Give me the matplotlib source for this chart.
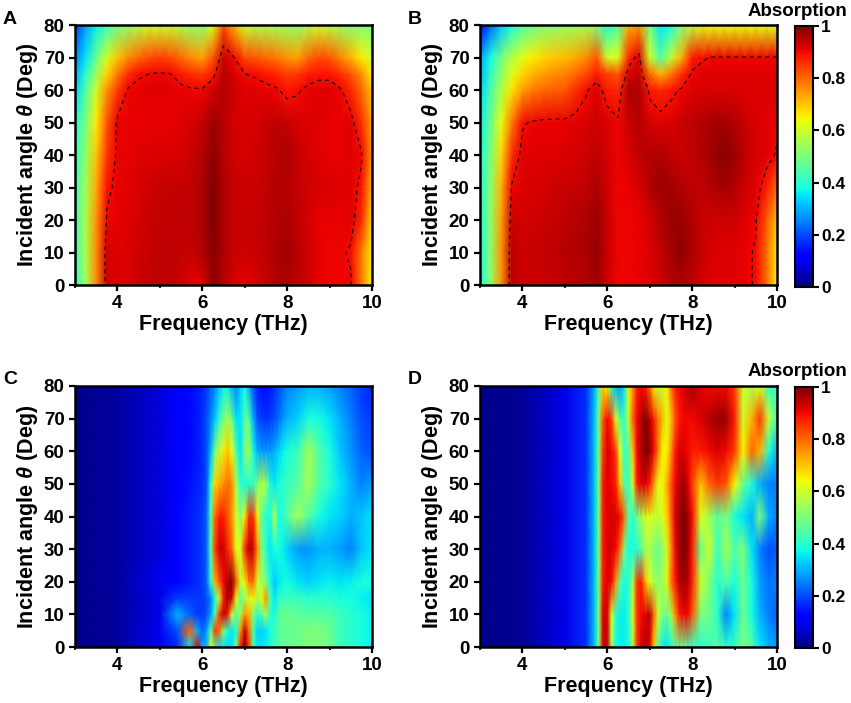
import numpy as np
import matplotlib
matplotlib.use("Agg")
import matplotlib.pyplot as plt
from matplotlib.ticker import MultipleLocator

plt.rcParams['font.family'] = ['Liberation Sans', 'DejaVu Sans']
plt.rcParams['font.weight'] = 'bold'
plt.rcParams['mathtext.fontset'] = 'custom'
plt.rcParams['mathtext.rm'] = 'Liberation Sans:bold'
plt.rcParams['mathtext.it'] = 'Liberation Sans:italic:bold'
plt.rcParams['mathtext.bf'] = 'Liberation Sans:bold'
plt.rcParams['lines.dashed_pattern'] = [3.5, 3.5]

# --- panels A and B: frequency (THz) x incident angle (deg) ---
freq_ab = [3.0, 3.25, 3.5, 3.75, 4.0, 4.25, 4.5, 4.75, 5.0, 5.25, 5.5, 5.75, 6.0, 6.25, 6.5,
           6.75, 7.0, 7.25, 7.5, 7.75, 8.0, 8.25, 8.5, 8.75, 9.0, 9.25, 9.5, 9.75, 10.0]
angle_ab = [0, 10, 20, 30, 40, 50, 60, 65, 70, 80]

absorb_a = [
    [0.40, 0.55, 0.76, 0.93, 0.915, 0.92, 0.93, 0.94, 0.945, 0.945, 0.93, 0.91, 0.915, 0.985, 0.95, 0.92, 0.91, 0.92, 0.935, 0.955, 0.96, 0.945, 0.93, 0.91, 0.905, 0.905, 0.905, 0.78, 0.65],
    [0.42, 0.56, 0.76, 0.93, 0.915, 0.92, 0.93, 0.94, 0.945, 0.945, 0.94, 0.94, 0.955, 0.99, 0.96, 0.935, 0.93, 0.935, 0.945, 0.96, 0.965, 0.95, 0.93, 0.91, 0.905, 0.905, 0.895, 0.78, 0.66],
    [0.42, 0.56, 0.75, 0.905, 0.91, 0.915, 0.925, 0.935, 0.94, 0.945, 0.945, 0.945, 0.96, 1.00, 0.96, 0.935, 0.935, 0.94, 0.945, 0.955, 0.96, 0.945, 0.925, 0.91, 0.91, 0.91, 0.915, 0.87, 0.68],
    [0.42, 0.55, 0.73, 0.89, 0.91, 0.915, 0.92, 0.93, 0.935, 0.94, 0.94, 0.945, 0.96, 1.00, 0.96, 0.935, 0.93, 0.935, 0.94, 0.95, 0.95, 0.94, 0.93, 0.925, 0.92, 0.915, 0.915, 0.89, 0.72],
    [0.40, 0.53, 0.70, 0.85, 0.91, 0.91, 0.915, 0.915, 0.92, 0.92, 0.925, 0.935, 0.95, 0.985, 0.95, 0.93, 0.925, 0.93, 0.94, 0.95, 0.96, 0.94, 0.925, 0.915, 0.91, 0.91, 0.915, 0.905, 0.75],
    [0.38, 0.50, 0.66, 0.82, 0.91, 0.91, 0.91, 0.91, 0.91, 0.91, 0.915, 0.925, 0.94, 0.97, 0.95, 0.925, 0.92, 0.925, 0.935, 0.945, 0.94, 0.925, 0.915, 0.915, 0.91, 0.91, 0.915, 0.86, 0.74],
    [0.33, 0.45, 0.60, 0.75, 0.85, 0.905, 0.91, 0.915, 0.915, 0.915, 0.91, 0.905, 0.905, 0.93, 0.95, 0.93, 0.915, 0.915, 0.91, 0.905, 0.885, 0.895, 0.91, 0.915, 0.915, 0.905, 0.87, 0.80, 0.70],
    [0.29, 0.40, 0.54, 0.68, 0.78, 0.86, 0.895, 0.90, 0.905, 0.90, 0.88, 0.86, 0.85, 0.885, 0.95, 0.92, 0.90, 0.895, 0.885, 0.87, 0.84, 0.85, 0.88, 0.89, 0.89, 0.86, 0.82, 0.76, 0.66],
    [0.25, 0.35, 0.48, 0.60, 0.70, 0.76, 0.80, 0.83, 0.84, 0.83, 0.80, 0.76, 0.74, 0.82, 0.94, 0.90, 0.83, 0.82, 0.80, 0.78, 0.75, 0.74, 0.80, 0.83, 0.82, 0.77, 0.72, 0.66, 0.60],
    [0.18, 0.28, 0.36, 0.42, 0.48, 0.53, 0.57, 0.60, 0.60, 0.59, 0.56, 0.53, 0.52, 0.62, 0.83, 0.72, 0.60, 0.57, 0.56, 0.55, 0.53, 0.53, 0.57, 0.60, 0.58, 0.54, 0.52, 0.51, 0.50],
]

absorb_b = [
    [0.38, 0.52, 0.75, 0.95, 0.93, 0.93, 0.935, 0.94, 0.945, 0.95, 0.955, 0.97, 0.93, 0.905, 0.905, 0.91, 0.915, 0.93, 0.95, 0.96, 0.945, 0.925, 0.915, 0.915, 0.915, 0.91, 0.895, 0.80, 0.65],
    [0.38, 0.52, 0.75, 0.95, 0.93, 0.935, 0.94, 0.945, 0.95, 0.955, 0.96, 0.98, 0.935, 0.905, 0.905, 0.91, 0.92, 0.94, 0.965, 0.985, 0.96, 0.935, 0.92, 0.915, 0.915, 0.91, 0.895, 0.80, 0.66],
    [0.38, 0.52, 0.74, 0.93, 0.925, 0.93, 0.935, 0.94, 0.945, 0.95, 0.96, 0.975, 0.935, 0.905, 0.905, 0.91, 0.925, 0.955, 0.975, 0.975, 0.955, 0.935, 0.93, 0.93, 0.93, 0.915, 0.905, 0.82, 0.70],
    [0.38, 0.52, 0.72, 0.905, 0.92, 0.92, 0.925, 0.93, 0.935, 0.94, 0.945, 0.96, 0.93, 0.905, 0.91, 0.925, 0.955, 0.975, 0.965, 0.955, 0.945, 0.945, 0.955, 0.965, 0.955, 0.93, 0.915, 0.88, 0.80],
    [0.38, 0.50, 0.68, 0.86, 0.915, 0.915, 0.915, 0.915, 0.92, 0.925, 0.93, 0.945, 0.925, 0.905, 0.92, 0.945, 0.955, 0.955, 0.945, 0.935, 0.945, 0.955, 0.975, 0.985, 0.975, 0.945, 0.925, 0.915, 0.895],
    [0.36, 0.48, 0.63, 0.78, 0.895, 0.905, 0.91, 0.91, 0.91, 0.915, 0.92, 0.93, 0.92, 0.905, 0.935, 0.955, 0.925, 0.915, 0.92, 0.935, 0.945, 0.955, 0.965, 0.965, 0.955, 0.935, 0.92, 0.915, 0.91],
    [0.33, 0.44, 0.56, 0.67, 0.74, 0.78, 0.80, 0.81, 0.82, 0.86, 0.895, 0.92, 0.88, 0.87, 0.96, 0.96, 0.89, 0.87, 0.89, 0.905, 0.92, 0.92, 0.92, 0.92, 0.92, 0.915, 0.915, 0.915, 0.915],
    [0.30, 0.41, 0.52, 0.62, 0.68, 0.72, 0.74, 0.76, 0.77, 0.80, 0.83, 0.88, 0.84, 0.82, 0.92, 0.94, 0.80, 0.72, 0.78, 0.86, 0.905, 0.915, 0.915, 0.915, 0.915, 0.915, 0.915, 0.915, 0.915],
    [0.28, 0.38, 0.49, 0.57, 0.62, 0.66, 0.68, 0.70, 0.71, 0.73, 0.76, 0.82, 0.60, 0.62, 0.87, 0.92, 0.60, 0.45, 0.58, 0.72, 0.88, 0.895, 0.905, 0.905, 0.905, 0.905, 0.905, 0.905, 0.905],
    [0.12, 0.22, 0.32, 0.38, 0.44, 0.48, 0.50, 0.52, 0.53, 0.54, 0.55, 0.50, 0.38, 0.45, 0.72, 0.75, 0.50, 0.35, 0.38, 0.50, 0.58, 0.62, 0.63, 0.63, 0.63, 0.63, 0.63, 0.62, 0.62],
]

# --- panel C ---
freq_c = [3.0, 4.0, 5.0, 5.4, 5.7, 5.9, 6.0, 6.1, 6.2, 6.3, 6.4, 6.5, 6.6, 6.7, 6.8, 6.9, 7.0, 7.1,
          7.2, 7.3, 7.4, 7.5, 7.6, 7.7, 7.8, 7.9, 8.0, 8.25, 8.5, 8.75, 9.0, 9.25, 9.5, 9.75, 10.0]
angle_c = [0, 5, 10, 15, 20, 30, 40, 50, 60, 70, 80]

absorb_c = [
    [0.01, 0.03, 0.10, 0.16, 0.35, 0.92, 0.30, 0.30, 0.62, 0.42, 0.35, 0.35, 0.33, 0.35, 0.50, 0.88, 1.00, 0.85, 0.45, 0.35, 0.35, 0.36, 0.38, 0.42, 0.45, 0.47, 0.47, 0.48, 0.50, 0.50, 0.48, 0.42, 0.40, 0.38, 0.36],
    [0.01, 0.03, 0.10, 0.20, 0.80, 0.30, 0.22, 0.28, 0.45, 0.85, 0.80, 0.50, 0.38, 0.35, 0.40, 0.75, 0.95, 0.80, 0.45, 0.33, 0.33, 0.35, 0.38, 0.42, 0.45, 0.47, 0.47, 0.48, 0.50, 0.50, 0.48, 0.42, 0.40, 0.38, 0.36],
    [0.01, 0.03, 0.09, 0.30, 0.22, 0.18, 0.18, 0.20, 0.28, 0.45, 0.85, 0.95, 0.88, 0.60, 0.45, 0.55, 0.75, 0.72, 0.50, 0.40, 0.45, 0.55, 0.40, 0.38, 0.45, 0.48, 0.48, 0.47, 0.45, 0.45, 0.45, 0.42, 0.40, 0.38, 0.36],
    [0.01, 0.03, 0.09, 0.18, 0.18, 0.18, 0.18, 0.20, 0.25, 0.38, 0.60, 0.88, 0.98, 0.92, 0.65, 0.45, 0.55, 0.60, 0.65, 0.55, 0.65, 0.75, 0.45, 0.35, 0.40, 0.42, 0.42, 0.42, 0.40, 0.40, 0.40, 0.38, 0.38, 0.36, 0.35],
    [0.01, 0.03, 0.10, 0.12, 0.15, 0.17, 0.18, 0.22, 0.40, 0.72, 0.82, 0.90, 0.96, 1.00, 0.82, 0.58, 0.65, 0.78, 0.80, 0.60, 0.55, 0.50, 0.38, 0.32, 0.35, 0.37, 0.38, 0.35, 0.33, 0.35, 0.36, 0.35, 0.36, 0.38, 0.38],
    [0.01, 0.03, 0.08, 0.12, 0.15, 0.17, 0.18, 0.22, 0.45, 0.84, 0.93, 0.93, 0.87, 0.80, 0.62, 0.62, 0.86, 0.95, 0.93, 0.76, 0.50, 0.40, 0.35, 0.38, 0.38, 0.36, 0.33, 0.28, 0.27, 0.30, 0.30, 0.28, 0.25, 0.32, 0.35],
    [0.01, 0.03, 0.08, 0.12, 0.15, 0.17, 0.18, 0.22, 0.45, 0.80, 0.88, 0.88, 0.82, 0.75, 0.60, 0.52, 0.66, 0.86, 0.86, 0.66, 0.45, 0.40, 0.38, 0.58, 0.38, 0.40, 0.45, 0.55, 0.45, 0.38, 0.35, 0.33, 0.30, 0.32, 0.35],
    [0.01, 0.03, 0.08, 0.12, 0.14, 0.16, 0.17, 0.20, 0.40, 0.68, 0.72, 0.76, 0.80, 0.76, 0.56, 0.40, 0.38, 0.40, 0.42, 0.50, 0.58, 0.55, 0.38, 0.35, 0.38, 0.40, 0.42, 0.45, 0.55, 0.45, 0.40, 0.35, 0.30, 0.25, 0.28],
    [0.01, 0.03, 0.08, 0.11, 0.13, 0.15, 0.17, 0.20, 0.30, 0.50, 0.58, 0.66, 0.70, 0.64, 0.44, 0.35, 0.50, 0.55, 0.38, 0.30, 0.28, 0.28, 0.28, 0.30, 0.33, 0.36, 0.38, 0.42, 0.55, 0.45, 0.38, 0.32, 0.27, 0.22, 0.20],
    [0.01, 0.03, 0.08, 0.11, 0.13, 0.15, 0.17, 0.20, 0.25, 0.32, 0.40, 0.50, 0.55, 0.48, 0.35, 0.35, 0.45, 0.45, 0.30, 0.20, 0.18, 0.17, 0.18, 0.20, 0.23, 0.27, 0.30, 0.33, 0.38, 0.38, 0.35, 0.30, 0.25, 0.20, 0.18],
    [0.01, 0.03, 0.08, 0.11, 0.13, 0.15, 0.16, 0.18, 0.22, 0.26, 0.32, 0.36, 0.36, 0.30, 0.25, 0.33, 0.38, 0.30, 0.20, 0.15, 0.14, 0.14, 0.15, 0.17, 0.20, 0.22, 0.25, 0.28, 0.30, 0.30, 0.28, 0.25, 0.22, 0.18, 0.16],
]

# --- panel D ---
freq_d = [3.0, 4.0, 5.0, 5.5, 5.7, 5.8, 5.9, 6.0, 6.1, 6.2, 6.3, 6.4, 6.5, 6.6, 6.7, 6.8, 6.9, 7.0, 7.1,
          7.2, 7.3, 7.4, 7.5, 7.6, 7.7, 7.8, 7.9, 8.0, 8.2, 8.4, 8.6, 8.8, 9.0, 9.2, 9.4, 9.6, 9.8, 10.0]
angle_d = [0, 10, 20, 30, 40, 50, 60, 70, 80]

absorb_d = [
    [0.01, 0.02, 0.09, 0.17, 0.32, 0.50, 0.92, 0.95, 0.55, 0.38, 0.36, 0.36, 0.38, 0.55, 0.85, 0.92, 0.95, 0.92, 0.70, 0.45, 0.36, 0.35, 0.38, 0.45, 0.48, 0.48, 0.45, 0.42, 0.40, 0.42, 0.45, 0.40, 0.42, 0.50, 0.45, 0.35, 0.30, 0.28],
    [0.01, 0.02, 0.09, 0.17, 0.32, 0.52, 0.92, 0.93, 0.60, 0.40, 0.36, 0.36, 0.40, 0.60, 0.85, 0.90, 0.92, 0.95, 0.80, 0.60, 0.50, 0.48, 0.55, 0.75, 0.88, 0.90, 0.90, 0.82, 0.50, 0.48, 0.40, 0.25, 0.35, 0.48, 0.38, 0.30, 0.25, 0.22],
    [0.01, 0.02, 0.09, 0.17, 0.32, 0.50, 0.88, 0.92, 0.90, 0.75, 0.45, 0.38, 0.40, 0.55, 0.85, 0.88, 0.72, 0.62, 0.55, 0.52, 0.55, 0.62, 0.78, 0.88, 0.95, 0.97, 0.95, 0.88, 0.60, 0.50, 0.40, 0.45, 0.38, 0.48, 0.38, 0.28, 0.24, 0.25],
    [0.01, 0.02, 0.09, 0.17, 0.32, 0.50, 0.88, 0.92, 0.92, 0.90, 0.80, 0.50, 0.38, 0.38, 0.40, 0.45, 0.55, 0.55, 0.50, 0.48, 0.52, 0.60, 0.75, 0.90, 0.97, 1.00, 0.97, 0.88, 0.48, 0.60, 0.42, 0.55, 0.45, 0.50, 0.35, 0.25, 0.20, 0.22],
    [0.01, 0.02, 0.09, 0.17, 0.32, 0.50, 0.88, 0.92, 0.92, 0.92, 0.90, 0.80, 0.45, 0.40, 0.48, 0.55, 0.60, 0.62, 0.60, 0.58, 0.62, 0.68, 0.80, 0.92, 0.97, 1.00, 0.97, 0.90, 0.62, 0.55, 0.45, 0.50, 0.38, 0.35, 0.30, 0.50, 0.30, 0.25],
    [0.01, 0.02, 0.09, 0.17, 0.32, 0.50, 0.88, 0.92, 0.90, 0.88, 0.70, 0.45, 0.42, 0.60, 0.88, 0.92, 0.92, 0.88, 0.75, 0.62, 0.65, 0.72, 0.82, 0.90, 0.95, 0.97, 0.92, 0.85, 0.70, 0.80, 0.85, 0.82, 0.65, 0.48, 0.38, 0.30, 0.25, 0.25],
    [0.01, 0.02, 0.09, 0.17, 0.32, 0.50, 0.85, 0.92, 0.90, 0.85, 0.62, 0.42, 0.45, 0.70, 0.90, 0.95, 1.00, 0.98, 0.90, 0.78, 0.65, 0.65, 0.75, 0.88, 0.92, 0.92, 0.90, 0.88, 0.88, 0.90, 0.92, 0.90, 0.85, 0.65, 0.80, 0.72, 0.40, 0.30],
    [0.01, 0.02, 0.09, 0.17, 0.32, 0.50, 0.82, 0.90, 0.85, 0.62, 0.45, 0.42, 0.58, 0.80, 0.90, 0.95, 1.00, 0.95, 0.88, 0.78, 0.72, 0.62, 0.70, 0.82, 0.88, 0.90, 0.90, 0.90, 0.92, 0.95, 0.98, 0.97, 0.88, 0.60, 0.72, 0.85, 0.60, 0.42],
    [0.01, 0.02, 0.09, 0.17, 0.30, 0.45, 0.68, 0.65, 0.40, 0.30, 0.28, 0.35, 0.65, 0.75, 0.88, 0.90, 0.88, 0.80, 0.65, 0.58, 0.60, 0.65, 0.78, 0.88, 0.90, 0.92, 0.95, 0.97, 0.92, 0.90, 0.90, 0.90, 0.85, 0.60, 0.55, 0.62, 0.42, 0.40],
]

W, H = 851, 703
fig = plt.figure(figsize=(W / 100, H / 100), dpi=100)


def px_axes(x0, y0, x1, y1):
    # rectangle given in pixels from the top-left corner
    return fig.add_axes([x0 / W, 1 - y1 / H, (x1 - x0) / W, (y1 - y0) / H])


def draw_panel(ax, freq, angle, z, letter, dashed=False):
    mesh = ax.pcolormesh(freq, angle, np.array(z), shading='gouraud', cmap='jet', vmin=0, vmax=1)
    if dashed:
        ax.contour(freq, angle, np.array(z), levels=[0.9], colors='k', linewidths=0.8, linestyles='dashed')
    ax.set_xlim(3, 10)
    ax.set_ylim(0, 80)
    ax.xaxis.set_major_locator(MultipleLocator(2))
    ax.xaxis.set_minor_locator(MultipleLocator(1))
    ax.yaxis.set_major_locator(MultipleLocator(10))
    ax.tick_params(which='major', direction='out', length=4.5, width=1.6, labelsize=13.5, pad=3)
    ax.tick_params(which='minor', direction='out', length=2.5, width=1.2)
    ax.tick_params(axis='y', which='minor', left=False)
    for s in ax.spines.values():
        s.set_linewidth(1.8)
    ax.set_xlabel('Frequency (THz)', fontsize=15.5, fontweight='bold', labelpad=1)
    ax.set_ylabel(r'Incident angle $\theta$ (Deg)', fontsize=15.5, fontweight='bold', labelpad=3)
    pos = ax.get_position()
    fig.text(pos.x0 - 72 / W, pos.y1 + 6 / H, letter, fontsize=14, fontweight='bold', va='center', ha='left')
    return mesh


def draw_colorbar(mesh, x0, y0, x1, y1):
    cax = px_axes(x0, y0, x1, y1)
    cb = fig.colorbar(mesh, cax=cax, ticks=[0, 0.2, 0.4, 0.6, 0.8, 1.0])
    cb.ax.set_yticklabels(['0', '0.2', '0.4', '0.6', '0.8', '1'])
    cb.ax.tick_params(direction='out', length=4, width=1.5, labelsize=12.5, pad=2)
    cb.outline.set_linewidth(1.5)
    fig.text(797 / W, 1 - (y0 - 15) / H, 'Absorption', fontsize=13.5, fontweight='bold',
             ha='center', va='center')


ax_a = px_axes(75, 25, 372, 285)
ax_b = px_axes(480, 25, 777, 285)
ax_c = px_axes(75, 386, 372, 647)
ax_d = px_axes(480, 386, 777, 647)

draw_panel(ax_a, freq_ab, angle_ab, absorb_a, 'A', dashed=True)
mesh_b = draw_panel(ax_b, freq_ab, angle_ab, absorb_b, 'B', dashed=True)
draw_panel(ax_c, freq_c, angle_c, absorb_c, 'C')
mesh_d = draw_panel(ax_d, freq_d, angle_d, absorb_d, 'D')

draw_colorbar(mesh_b, 795, 26, 813, 287)
draw_colorbar(mesh_d, 795, 387, 813, 648)

fig.savefig('out.png', dpi=100)
